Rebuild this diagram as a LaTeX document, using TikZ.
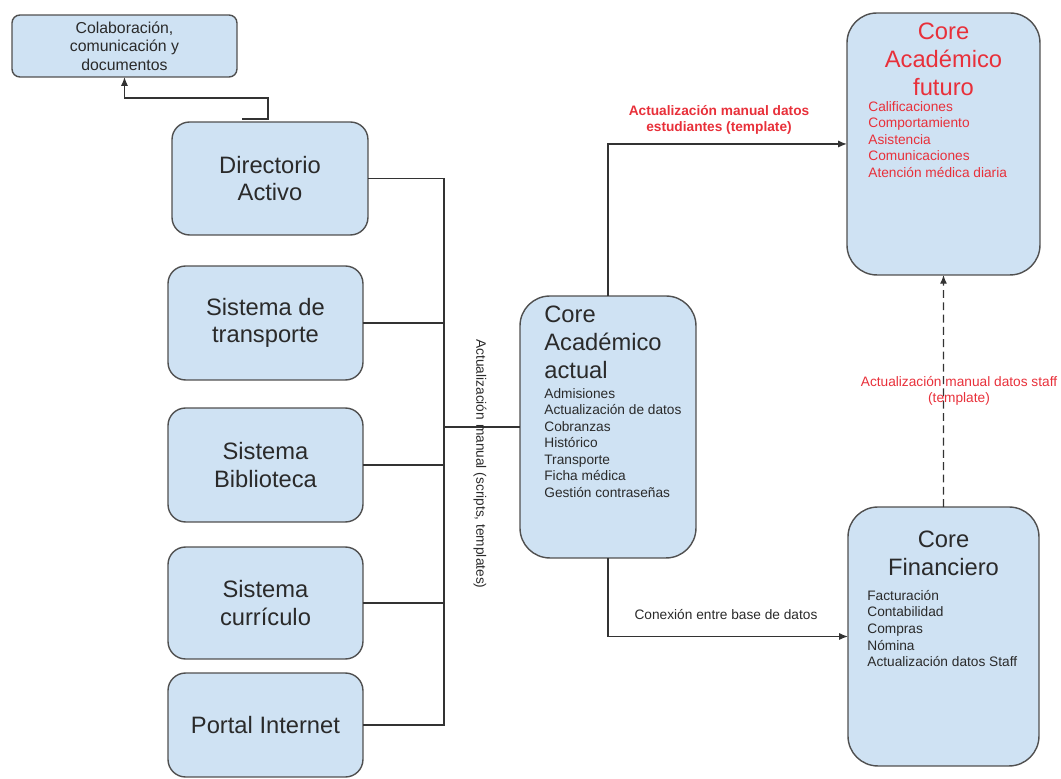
\documentclass[tikz,border=0pt]{standalone}
\usepackage{fontspec}
\setmainfont{Liberation Sans}
\usetikzlibrary{arrows.meta}
\definecolor{boxfill}{HTML}{CFE2F3}
\definecolor{boxline}{HTML}{505050}
\definecolor{wire}{HTML}{333333}
\definecolor{ink}{HTML}{2A2A2A}
\definecolor{alert}{HTML}{E8303A}
\begin{document}
\begin{tikzpicture}[x=0.02cm,y=-0.02cm,
  box/.style={draw=boxline,fill=boxfill,line width=0.8pt,inner sep=0pt,outer sep=0pt,anchor=north west},
  sysbox/.style={box,rounded corners=10pt,text=ink,align=center,
    font=\fontsize{13.5pt}{15.4pt}\selectfont},
  corebox/.style={box,rounded corners=17pt},
  title/.style={inner sep=0pt,font=\fontsize{13.5pt}{15.8pt}\selectfont},
  items/.style={inner sep=0pt,anchor=north west,align=left,font=\fontsize{7.8pt}{9.4pt}\selectfont},
  small/.style={inner sep=0pt,font=\fontsize{7.8pt}{9.2pt}\selectfont},
  wire/.style={draw=wire,line width=0.75pt},
  tip/.style={-{Latex[length=5pt,width=4pt]}}]
\useasboundingbox (0,0) rectangle (1061,778);

% systems on the left
\node[box,rounded corners=4.5pt,minimum width=4.5cm,minimum height=1.24cm,text=ink,align=center,
  font=\fontsize{9pt}{10.6pt}\selectfont] (colab) at (12,15)
  {Colaboración,\\comunicación y\\documentos};
\node[sysbox,minimum width=3.92cm,minimum height=2.26cm] (dir) at (172,122) {Directorio\\Activo};
\node[sysbox,minimum width=3.9cm,minimum height=2.28cm] (trans) at (168,266) {Sistema de\\transporte};
\node[sysbox,minimum width=3.9cm,minimum height=2.28cm] (bib) at (168,408) {Sistema\\Biblioteca};
\node[sysbox,minimum width=3.9cm,minimum height=2.24cm] (cur) at (168,547) {Sistema\\currículo};
\node[sysbox,minimum width=3.9cm,minimum height=2.08cm] (portal) at (168,673) {Portal Internet};

% current academic core
\node[corebox,minimum width=3.52cm,minimum height=5.24cm] (actual) at (520,296) {};
\node[title,anchor=north west,align=left,text=ink] (actualT) at (544,306) {Core\\Académico\\actual};
\node[items,text=ink] (actualL) at (544,388)
  {Admisiones\\Actualización de datos\\Cobranzas\\Histórico\\Transporte\\Ficha médica\\Gestión contraseñas};

% future academic core
\node[corebox,minimum width=3.86cm,minimum height=5.24cm] (futuro) at (847,13) {};
\node[title,anchor=north,align=center,text=alert] (futuroT) at (943.5,23) {Core\\Académico\\futuro};
\node[items,text=alert] (futuroL) at (868,101)
  {Calificaciones\\Comportamiento\\Asistencia\\Comunicaciones\\Atención médica diaria};

% financial core
\node[corebox,minimum width=3.82cm,minimum height=5.18cm] (fin) at (848,507) {};
\node[title,anchor=north,align=center,text=ink] (finT) at (943.5,531) {Core\\Financiero};
\node[items,text=ink] (finL) at (867,590)
  {Facturación\\Contabilidad\\Compras\\Nómina\\Actualización datos Staff};

% link to collaboration tools
\coordinate (tickL) at (242,119);
\coordinate (tickR) at (268,119);
\draw[wire,tip] (tickL) -- (tickR) -- ++(0,-21) -| (colab.south);

% bus collecting the systems
\coordinate (bus) at (444,0);
\draw[wire] (dir.east) -- (dir.east -| bus) -- (portal.east -| bus) -- (portal.east);
\draw[wire] (trans.east) -- (trans.east -| bus);
\draw[wire] (bib.east) -- (bib.east -| bus);
\draw[wire] (cur.east) -- (cur.east -| bus);
\draw[wire] (actual.west -| bus) -- (actual.west);
\node[small,rotate=-90,text=ink] (busLbl) at (480,464) {Actualización manual (scripts, templates)};

% links from the current core
\draw[wire,tip] (actual.north) |- (futuro.west);
\node[small,align=center,text=alert,font=\fontsize{7.8pt}{9.2pt}\selectfont\bfseries] (upLbl) at (719,120)
  {Actualización manual datos\\estudiantes (template)};
\draw[wire,tip] (actual.south) |- (fin.west);
\node[small,text=ink] (dbLbl) at (726,615) {Conexión entre base de datos};

% staff data update
\draw[wire,tip,dash pattern=on 4.5pt off 2.5pt] (fin.north) -- (futuro.south);
\node[small,align=center,text=alert] (staffLbl) at (959,391)
  {Actualización manual datos staff\\(template)};
\end{tikzpicture}
\end{document}
